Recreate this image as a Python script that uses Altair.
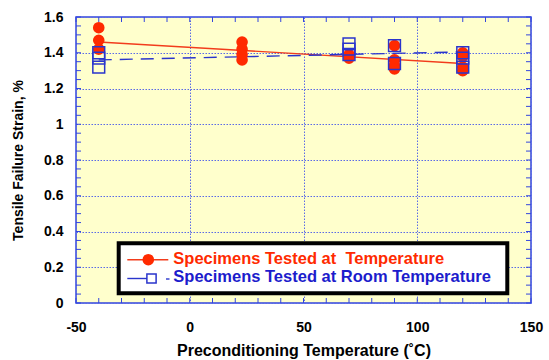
import altair as alt
import pandas as pd

# ---------------- data ----------------
series_names = ["Specimens Tested at\u00a0 Temperature",
                "Specimens Tested at Room Temperature"]

red_temps = [-40, -40, -40, 23, 23, 23, 23, 70, 70, 90, 90, 90, 90, 120, 120, 120, 120]
red_strain = [1.54, 1.47, 1.42, 1.46, 1.42, 1.39, 1.36, 1.39, 1.37,
              1.44, 1.36, 1.33, 1.31, 1.40, 1.38, 1.32, 1.30]

blue_temps = [-40, -40, -40, 70, 70, 70, 90, 90, 120, 120, 120]
blue_strain = [1.40, 1.37, 1.32, 1.45, 1.42, 1.39, 1.44, 1.34, 1.40, 1.37, 1.32]

fit_temps = [-40, 120]
red_fit = [1.46, 1.34]
blue_fit = [1.36, 1.405]

x_major = [-50, 0, 50, 100, 150]
y_major = [0, 0.2, 0.4, 0.6, 0.8, 1.0, 1.2, 1.4, 1.6]
x_minor = [-50, -40, -30, -20, -10, 0, 10, 20, 30, 40, 50, 60, 70, 80, 90,
           100, 110, 120, 130, 140, 150]
y_minor = [0, 0.05, 0.1, 0.15, 0.2, 0.25, 0.3, 0.35, 0.4, 0.45, 0.5, 0.55, 0.6,
           0.65, 0.7, 0.75, 0.8, 0.85, 0.9, 0.95, 1.0, 1.05, 1.1, 1.15, 1.2,
           1.25, 1.3, 1.35, 1.4, 1.45, 1.5, 1.55, 1.6]

# ---------------- style ----------------
FONT = "Liberation Sans"
RED = "#ff2a00"
RED_LINE = "#f23c1c"
BLUE = "#2a35cc"
BLUE_TXT = "#1c1ccc"
AXIS_BLUE = "#3346dd"
GRID_BLUE = "#5a6ae6"
BG = "#ffffcc"
W, H = 455, 286

xscale = alt.Scale(domain=[-50, 150], nice=False, zero=False)
yscale = alt.Scale(domain=[0, 1.6], nice=False, zero=False)

x_axis = alt.Axis(
    values=x_major, grid=True, gridColor=GRID_BLUE, gridDash=[1.5, 1.5], gridWidth=1,
    domain=False, ticks=False, tickSize=0,
    labelFont=FONT, labelFontSize=14, labelFontWeight="bold", labelColor="black",
    labelPadding=28, labelBaseline="alphabetic", labelFlush=False, labelOverlap=False,
    labelExpr="'' + datum.value",
    title="Preconditioning Temperature (\u02daC)", titleFont=FONT, titleFontSize=16,
    titleFontWeight="bold", titleColor="black", titleX=W / 2, titleY=52,
    titleAlign="center", titleBaseline="alphabetic",
)
y_axis = alt.Axis(
    values=y_major, grid=True, gridColor=GRID_BLUE, gridDash=[1.5, 1.5], gridWidth=1,
    domain=False, ticks=False, tickSize=0,
    labelFont=FONT, labelFontSize=14, labelFontWeight="bold", labelColor="black",
    labelPadding=13, labelBaseline="middle", labelFlush=False, labelOverlap=False,
    labelExpr="format(datum.value, '~g')",
    title="Tensile Failure Strain, %", titleFont=FONT, titleFontSize=14,
    titleFontWeight="bold", titleColor="black", titleX=-58, titleY=H / 2,
    titleAngle=270, titleAlign="center", titleBaseline="middle",
)

# ---------------- tables ----------------
red_df = pd.DataFrame({"temp": red_temps, "strain": red_strain})
blue_df = pd.DataFrame({"temp": blue_temps, "strain": blue_strain})
red_fit_df = pd.DataFrame({"temp": fit_temps, "strain": red_fit})
blue_fit_df = pd.DataFrame({"temp": fit_temps, "strain": blue_fit})
xt_df = pd.DataFrame({"temp": x_minor})
yt_df = pd.DataFrame({"strain": y_minor})

X = alt.X("temp:Q", scale=xscale, axis=x_axis)
Y = alt.Y("strain:Q", scale=yscale, axis=y_axis)

# ---------------- minor ticks (inward, all four sides) ----------------
tick_style = dict(color=AXIS_BLUE, strokeWidth=1)
ticks_bottom = alt.Chart(xt_df).mark_rule(**tick_style).encode(x=X, y=alt.value(H), y2=alt.value(H - 5))
ticks_top = alt.Chart(xt_df).mark_rule(**tick_style).encode(x=X, y=alt.value(0), y2=alt.value(5))
ticks_left = alt.Chart(yt_df).mark_rule(**tick_style).encode(y=Y, x=alt.value(0), x2=alt.value(5))
ticks_right = alt.Chart(yt_df).mark_rule(**tick_style).encode(y=Y, x=alt.value(W), x2=alt.value(W - 5))

# ---------------- data marks ----------------
red_line = alt.Chart(red_fit_df).mark_line(color=RED_LINE, strokeWidth=1.4).encode(x=X, y=Y)
blue_line = alt.Chart(blue_fit_df).mark_line(color=BLUE, strokeWidth=1.4, strokeDash=[13, 8]).encode(x=X, y=Y)
red_pts = alt.Chart(red_df).mark_point(shape="circle", filled=True, size=135, color=RED,
                                       opacity=1).encode(x=X, y=Y)
blue_pts = alt.Chart(blue_df).mark_point(shape="square", filled=False, size=140, color=BLUE,
                                         strokeWidth=1.5, opacity=1).encode(x=X, y=Y)

# ---------------- legend ----------------
leg0 = pd.DataFrame({"label": [series_names[0]]})
leg1 = pd.DataFrame({"label": [series_names[1]]})
legend_box = alt.Chart(leg0).mark_rect(fill="white", stroke="black", strokeWidth=4).encode(
    x=alt.value(42.7), x2=alt.value(431.3), y=alt.value(226.3), y2=alt.value(276.3))
r_line = alt.Chart(leg0).mark_rule(color=RED_LINE, strokeWidth=1.4).encode(
    x=alt.value(51.3), x2=alt.value(92.3), y=alt.value(242.7))
r_sym = alt.Chart(leg0).mark_point(shape="circle", filled=True, size=135, color=RED, opacity=1).encode(
    x=alt.value(72.3), y=alt.value(242.7))
r_txt = alt.Chart(leg0).mark_text(align="left", baseline="alphabetic", font=FONT, fontSize=16.5,
                                  fontWeight="bold", color=RED).encode(
    x=alt.value(97.3), y=alt.value(246.8), text="label:N")
b_line = alt.Chart(leg1).mark_rule(color=BLUE, strokeWidth=1.4).encode(
    x=alt.value(51.3), x2=alt.value(71), y=alt.value(261.5))
b_sym = alt.Chart(leg1).mark_point(shape="square", filled=False, size=85, color=BLUE,
                                   strokeWidth=1.5, opacity=1).encode(
    x=alt.value(75.5), y=alt.value(261.5))
b_dash = alt.Chart(leg1).mark_rule(color=BLUE, strokeWidth=1.4).encode(
    x=alt.value(90), x2=alt.value(93.5), y=alt.value(262))
b_txt = alt.Chart(leg1).mark_text(align="left", baseline="alphabetic", font=FONT, fontSize=16.5,
                                  fontWeight="bold", color=BLUE_TXT).encode(
    x=alt.value(97.3), y=alt.value(264.5), text="label:N")

chart = alt.layer(
    red_line, blue_line, red_pts, blue_pts,
    ticks_bottom, ticks_top, ticks_left, ticks_right,
    legend_box, r_line, r_sym, r_txt, b_line, b_sym, b_dash, b_txt,
).properties(
    width=W, height=H,
    autosize=alt.AutoSizeParams(type="none"),
    padding={"left": 76, "top": 17, "right": 18, "bottom": 57},
    background="white",
).configure_view(
    fill=BG, stroke=AXIS_BLUE, strokeWidth=1.5,
)

chart.save("out.html", embed_options={"renderer": "svg", "actions": False})
